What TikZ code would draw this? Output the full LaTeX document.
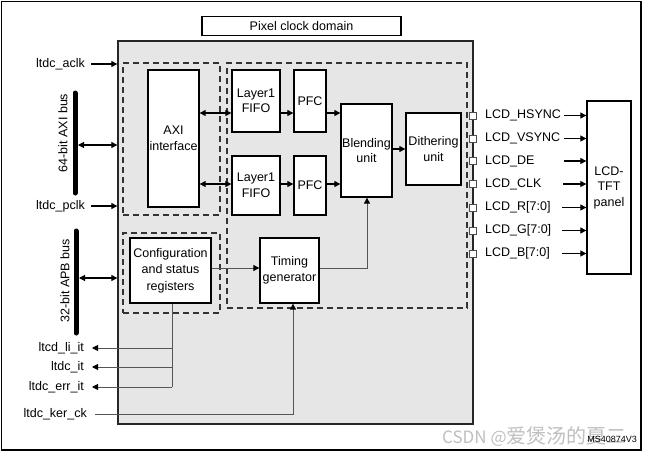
\documentclass[tikz,border=0pt]{standalone}
\usepackage{fontspec}
\setmainfont{Liberation Sans}
\newfontfamily\cjkfont{Noto Sans CJK SC}
\usetikzlibrary{arrows.meta,calc}
\definecolor{boxgrey}{HTML}{E6E6E6}
\definecolor{wire}{HTML}{555555}
\tikzset{
  blk/.style={draw=black, line width=1.3pt, fill=white, inner sep=0pt, align=center,
    font=\fontsize{12.5}{15.5}\selectfont},
  dashbox/.style={draw=black!80, line width=1.2pt, dash pattern=on 6pt off 4pt, inner sep=0pt},
  arr/.style={line width=1.1pt, -{Triangle[length=6pt,width=6pt]}},
  dbl/.style={line width=1.1pt, {Triangle[length=6pt,width=6pt]}-{Triangle[length=6pt,width=6pt]}},
  garr/.style={draw=wire, line width=0.9pt, -{Triangle[length=6pt,width=6pt,color=black]}},
  gline/.style={draw=wire, line width=0.9pt},
  lbl/.style={inner sep=0pt, font=\fontsize{12.5}{15}\selectfont},
  pin/.style={draw=black!70, fill=white, line width=0.6pt, minimum size=7pt, inner sep=0pt},
  busbar/.style={line width=5pt, line cap=round},
}
\begin{document}
\begin{tikzpicture}[x=1pt,y=-1pt]
\useasboundingbox (0,0) rectangle (646,456);
\fill[white] (0,0) rectangle (646,456);
% outer frame
\draw[line width=1.4pt] (1.5,1.5) rectangle (641,450);

% title box
\node[blk, minimum width=199pt, minimum height=19pt] (pcd) at (301.5,26) {Pixel clock domain};

% main grey box
\node[draw=black!85, fill=boxgrey, line width=1.3pt, minimum width=355pt, minimum height=383pt, inner sep=0pt] (ltdc) at (295.5,232.5) {};

% dashed groups
\node[dashbox, minimum width=97pt, minimum height=152pt] (dA) at (171.5,139) {};
\node[dashbox, minimum width=240pt, minimum height=245pt] (dB) at (347,185.5) {};
\node[dashbox, minimum width=97pt, minimum height=80pt] (dC) at (171.5,273) {};

% blocks
\node[blk, minimum width=51pt, minimum height=137pt] (axi) at (173.5,138.5) {AXI\\interface};
\node[blk, minimum width=48pt, minimum height=62pt] (fifo1) at (256,101) {Layer1\\FIFO};
\node[blk, minimum width=48pt, minimum height=59pt] (fifo2) at (256,185.5) {Layer1\\FIFO};
\node[blk, minimum width=32pt, minimum height=62pt] (pfc1) at (310,101) {PFC};
\node[blk, minimum width=32pt, minimum height=59pt] (pfc2) at (310,185.5) {PFC};
\node[blk, minimum width=51pt, minimum height=93pt] (blend) at (366.5,150.5) {Blending\\unit};
\node[blk, minimum width=55pt, minimum height=72pt] (dith) at (433.5,149) {Dithering\\unit};
\node[blk, minimum width=81pt, minimum height=65pt, font=\fontsize{12.5}{16.5}\selectfont] (conf) at (170.5,270.5) {Configuration\\and status\\registers};
\node[blk, minimum width=59pt, minimum height=65pt] (timing) at (289.5,270.5) {Timing\\generator};
\node[blk, minimum width=44pt, minimum height=173pt] (panel) at (609,187.5) {LCD-\\TFT\\panel};

% internal connectors
\coordinate (yA) at (0,113);
\coordinate (yB) at (0,184);
\draw[dbl] (axi.east |- yA) -- (fifo1.west |- yA);
\draw[dbl] (axi.east |- yB) -- (fifo2.west |- yB);
\draw[arr] (fifo1.east |- yA) -- (pfc1.west |- yA);
\draw[arr] (fifo2.east |- yB) -- (pfc2.west |- yB);
\draw[arr] (pfc1.east |- yA) -- (blend.west |- yA);
\draw[arr] (pfc2.east |- yB) -- (blend.west |- yB);
\draw[arr] (blend.east |- dith.west) -- (dith.west);
\coordinate (yT) at (0,268);
\draw[garr] (conf.east |- yT) -- (timing.west |- yT);
\coordinate (bend) at (367,268);
\draw[garr] (timing.east |- yT) -- (bend) -- (bend |- blend.south);

% bus bars
\coordinate (axiTop) at (75,93);
\coordinate (axiBot) at (75,193);
\draw[busbar] (axiTop) -- (axiBot);
\node[lbl, rotate=90] (axilbl) at (63,133) {64-bit AXI bus};
\coordinate (axiTap) at (78,145);
\draw[dbl] (axiTap) -- (ltdc.west |- axiTap);
\coordinate (apbTop) at (76,231);
\coordinate (apbBot) at (76,333);
\draw[busbar] (apbTop) -- (apbBot);
\node[lbl, rotate=90] (apblbl) at (65,281) {32-bit APB bus};
\coordinate (apbTap) at (79,278);
\draw[dbl] (apbTap) -- (ltdc.west |- apbTap);

% left clock inputs
\node[lbl, anchor=east] (aclk) at (85,64) {ltdc\_aclk};
\draw[arr] ($(aclk.east)+(6,0)$) -- (ltdc.west |- aclk.east);
\node[lbl, anchor=east] (pclk) at (85,206) {ltdc\_pclk};
\draw[arr] ($(pclk.east)+(6,0)$) -- (ltdc.west |- pclk.east);

% interrupts
\node[lbl, anchor=east] (liit) at (84,348) {ltcd\_li\_it};
\node[lbl, anchor=east] (it) at (84,367) {ltdc\_it};
\node[lbl, anchor=east] (errit) at (84,387) {ltdc\_err\_it};
\coordinate (tap) at (172,0);
\draw[gline] (tap |- conf.south) -- (tap |- errit.east);
\draw[garr] (tap |- liit.east) -- ($(liit.east)+(8,0)$);
\draw[garr] (tap |- it.east) -- ($(it.east)+(8,0)$);
\draw[garr] (tap |- errit.east) -- ($(errit.east)+(8,0)$);

% kernel clock
\node[lbl, anchor=east] (kerck) at (87,414) {ltdc\_ker\_ck};
\coordinate (kbend) at (293,414);
\draw[garr] ($(kerck.east)+(8,0)$) -- (kbend) -- (kbend |- timing.south);

% output pins and signals
\foreach \y/\name/\txt/\st in {115.5/hs/LCD\_HSYNC/564, 138.5/vs/LCD\_VSYNC/564, 161/de/LCD\_DE/564, 184/clk/LCD\_CLK/563, 207.5/r/LCD\_R[7:0]/562, 230.5/g/LCD\_G[7:0]/562, 253.5/b/LCD\_B[7:0]/562}{
  \node[pin] (p\name) at (473,\y) {};
  \node[lbl, anchor=west] (t\name) at (485,\y) {\txt};
  \coordinate (s\name) at (\st,\y);
  \draw[arr] (s\name) -- (panel.west |- s\name);
}

% figure id and watermark
\node[inner sep=0pt, anchor=west, text=gray!50, font=\cjkfont\fontsize{17}{17}\selectfont] (wm) at (442,437) {CSDN @{\fontsize{20}{20}\selectfont 爱煲汤的夏二}};
\node[inner sep=0pt, anchor=east, font=\fontsize{9}{9}\selectfont] (msid) at (637,439.5) {MS40874V3};
\end{tikzpicture}
\end{document}
